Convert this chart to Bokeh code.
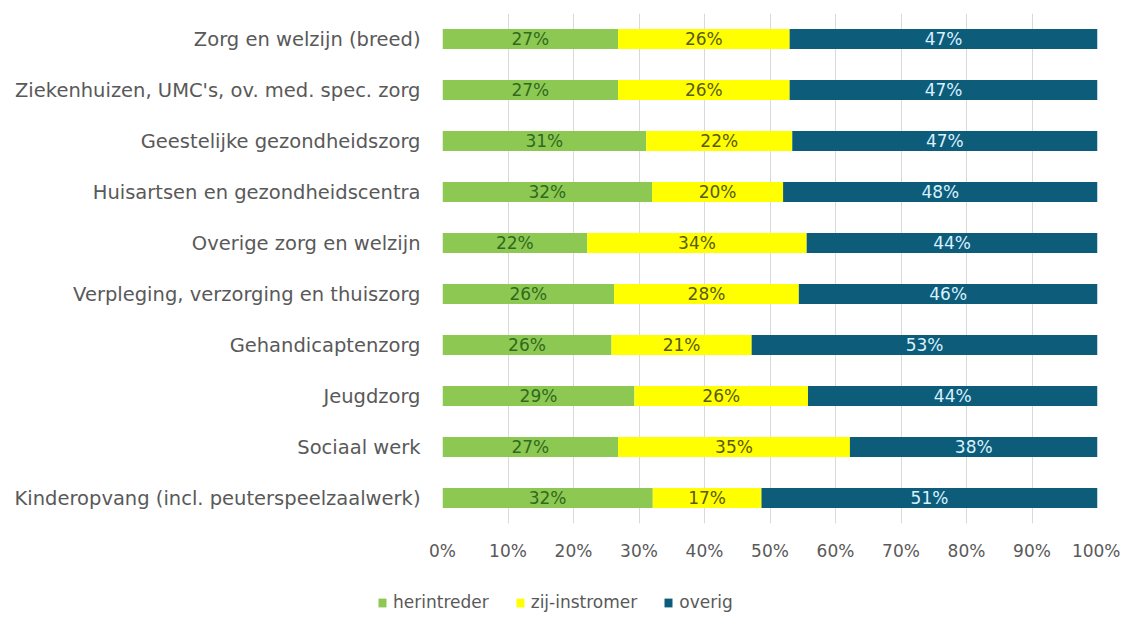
import numpy as np
from bokeh.plotting import figure
from bokeh.layouts import column
from bokeh.models import ColumnDataSource, Legend, LegendItem, FixedTicker, Range1d, FactorRange
from bokeh.core.properties import value
from bokeh.embed import file_html
from bokeh.resources import INLINE

categories = [
    "Zorg en welzijn (breed)",
    "Ziekenhuizen, UMC's, ov. med. spec. zorg",
    "Geestelijke gezondheidszorg",
    "Huisartsen en gezondheidscentra",
    "Overige zorg en welzijn",
    "Verpleging, verzorging en thuiszorg",
    "Gehandicaptenzorg",
    "Jeugdzorg",
    "Sociaal werk",
    "Kinderopvang (incl. peuterspeelzaalwerk)",
]
herintreder = [26.8, 26.8, 31.1, 32.0, 22.1, 26.2, 25.8, 29.3, 26.8, 32.1]
zij_instromer = [26.2, 26.2, 22.3, 20.0, 33.5, 28.2, 21.4, 26.5, 35.4, 16.6]
overig = [47.0, 47.0, 46.6, 48.0, 44.4, 45.6, 52.8, 44.2, 37.8, 51.3]
label_herintreder = ["27%", "27%", "31%", "32%", "22%", "26%", "26%", "29%", "27%", "32%"]
label_zij = ["26%", "26%", "22%", "20%", "34%", "28%", "21%", "26%", "35%", "17%"]
label_overig = ["47%", "47%", "47%", "48%", "44%", "46%", "53%", "44%", "38%", "51%"]
series_names = ["herintreder", "zij-instromer", "overig"]
x_ticks = [0, 10, 20, 30, 40, 50, 60, 70, 80, 90, 100]
x_tick_labels = ["0%", "10%", "20%", "30%", "40%", "50%", "60%", "70%", "80%", "90%", "100%"]

colors = ["#8DC853", "#FFFF00", "#0D5C7A"]
label_colors = ["#2F6A1E", "#5A5A12", "#D8F1FF"]
FONT = "DejaVu Sans"
W = 1120

h = np.array(herintreder)
z = np.array(zij_instromer)
o = np.array(overig)

src = ColumnDataSource(dict(
    cat=categories,
    herintreder=herintreder,
    zij=zij_instromer,
    overig=overig,
))

p = figure(
    width=W, height=580,
    y_range=FactorRange(factors=list(reversed(categories))),
    x_range=Range1d(0, 100),
    output_backend="svg", toolbar_location=None,
    min_border_left=442, min_border_right=W - 1097, min_border_top=13, min_border_bottom=57,
)
p.frame_align = False
p.outline_line_color = None
p.background_fill_color = "white"
p.border_fill_color = "white"

rs = p.hbar_stack(["herintreder", "zij", "overig"], y="cat", height=0.39,
                  color=colors, source=src, line_width=0)

# data labels
mids = [h / 2, h + z / 2, h + z + o / 2]
labels = [label_herintreder, label_zij, label_overig]
for mid, lab, col in zip(mids, labels, label_colors):
    p.text(x=list(mid), y=categories, text=lab, text_align="center", text_baseline="middle",
           text_font=value(FONT), text_font_size="17px", text_color=col)

# axes
p.xaxis.ticker = FixedTicker(ticks=x_ticks)
p.xaxis.major_label_overrides = {t: l for t, l in zip(x_ticks, x_tick_labels)}
for ax in (p.xaxis[0], p.yaxis[0]):
    ax.axis_line_color = None
    ax.major_tick_line_color = None
    ax.minor_tick_line_color = None
    ax.major_tick_out = 0
    ax.major_tick_in = 0
    ax.major_label_text_font = FONT
    ax.major_label_text_color = "#595959"
p.xaxis.major_label_text_font_size = "17px"
p.xaxis.major_label_standoff = 17
p.yaxis.major_label_text_font_size = "19.5px"
p.yaxis.major_label_standoff = 22

p.xgrid.grid_line_color = "#D9D9D9"
p.xgrid.grid_line_width = 1
p.ygrid.grid_line_color = None

# legend strip: a small figure without axes; its bars have zero height and lie outside its x-range
lf = figure(
    width=W, height=35,
    y_range=FactorRange(factors=list(reversed(categories))),
    x_range=Range1d(1000, 1100),
    x_axis_location=None, y_axis_location=None,
    output_backend="svg", toolbar_location=None,
    min_border=0,
)
lf.frame_align = False
lf.grid.grid_line_color = None
lf.outline_line_color = None
lrs = lf.hbar_stack(["herintreder", "zij", "overig"], y="cat", height=0.0,
                    color=colors, source=src, line_width=0)
legend = Legend(
    items=[LegendItem(label=n, renderers=[r]) for n, r in zip(series_names, lrs)],
    orientation="horizontal", location=(377, 3),
    border_line_color=None, background_fill_alpha=0,
    glyph_width=10, glyph_height=11, label_height=16,
    label_text_font=FONT, label_text_font_size="17px", label_text_color="#595959",
    spacing=26, padding=0, margin=0, label_standoff=6,
)
lf.add_layout(legend, "center")

layout = column(p, lf, spacing=0)
open("out.html", "w").write(file_html(layout, INLINE))
